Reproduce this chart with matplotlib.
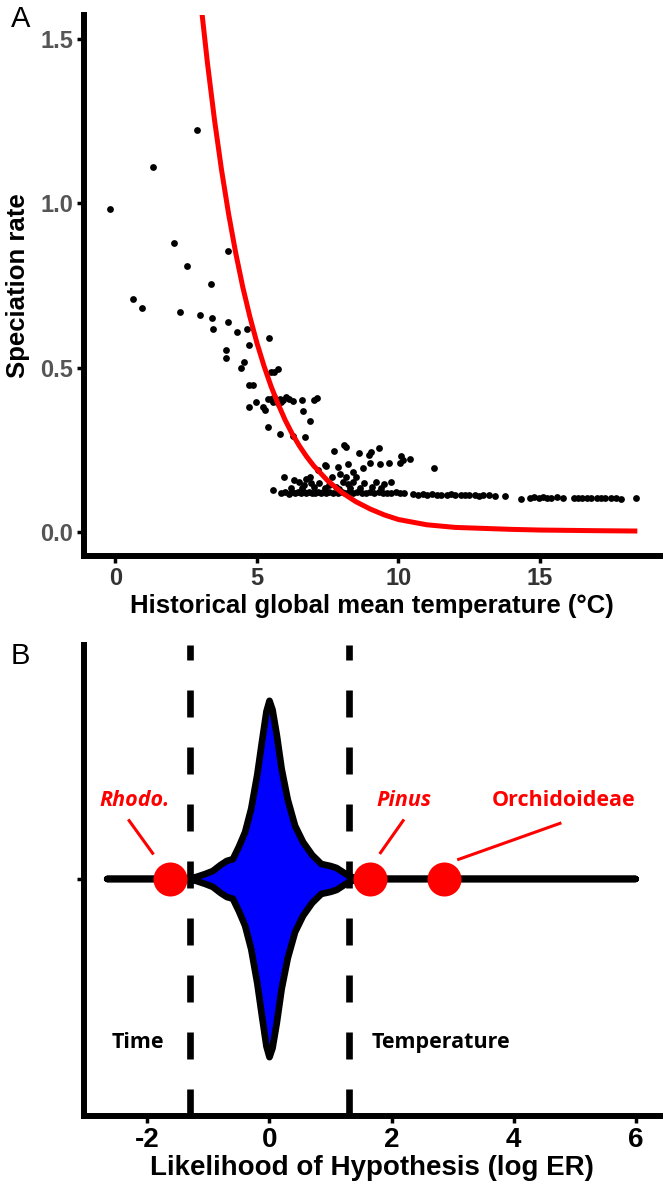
import matplotlib
matplotlib.use("Agg")
import matplotlib.pyplot as plt
import numpy as np

plt.rcParams['font.family'] = ['Liberation Sans', 'DejaVu Sans']

# ---- panel A: speciation rate vs temperature ----
temp_upper = [-0.19, 0.61, 0.93, 1.34, 2.06, 2.28, 2.54, 2.87, 3.00, 3.37, 3.42, 3.45,
              3.98, 3.99, 4.31, 4.65, 5.44, 4.73, 4.56, 4.42, 5.50, 5.62, 5.74, 4.73,
              4.85, 4.97, 4.71, 5.20, 5.30, 3.91, 3.91]
rate_upper = [0.983, 0.708, 0.681, 1.110, 0.879, 0.670, 0.809, 1.224, 0.659, 0.755, 0.650, 0.619,
              0.855, 0.638, 0.608, 0.618, 0.590, 0.568, 0.516, 0.498, 0.487, 0.487, 0.495, 0.447,
              0.447, 0.396, 0.379, 0.379, 0.371, 0.553, 0.528]

temp_mid = [5.38, 5.50, 5.62, 5.68, 5.80, 5.91, 6.03, 6.15, 6.27, 5.74, 5.56, 5.86,
            6.60, 7.00, 7.13, 6.64, 6.87, 5.39, 5.80, 6.27, 6.70]
rate_mid = [0.404, 0.406, 0.411, 0.399, 0.406, 0.401, 0.411, 0.406, 0.399, 0.391, 0.395, 0.396,
            0.403, 0.401, 0.408, 0.369, 0.338, 0.318, 0.298, 0.292, 0.290]

temp_low = [7.74, 8.09, 8.15, 8.62, 8.97, 9.03, 9.30, 10.09, 10.39, 11.25,
            7.45, 7.86, 8.21, 8.74, 8.98, 9.33, 9.68, 10.04, 10.15,
            5.95, 6.32, 6.50, 6.74, 6.86, 7.15, 7.42, 7.65, 7.92, 8.15, 8.39, 8.51,
            8.03, 8.21, 8.39, 8.80, 9.21, 9.50, 9.74, 7.56, 7.80, 7.21, 6.92, 6.68]
rate_low = [0.247, 0.264, 0.259, 0.239, 0.234, 0.244, 0.256, 0.231, 0.221, 0.194,
            0.202, 0.199, 0.207, 0.194, 0.209, 0.206, 0.209, 0.211, 0.219,
            0.168, 0.158, 0.153, 0.160, 0.166, 0.190, 0.203, 0.168, 0.178, 0.168, 0.183, 0.168,
            0.153, 0.146, 0.153, 0.148, 0.153, 0.146, 0.153, 0.143, 0.138, 0.148, 0.148, 0.143]

temp_row = [5.56, 5.85, 6.00, 6.12, 6.25, 6.35, 6.45, 6.55, 6.65, 6.75, 6.85, 6.95,
            7.05, 7.15, 7.25, 7.35, 7.45, 7.55, 7.70, 7.85, 8.00, 8.10, 8.25, 8.40,
            8.55, 8.70, 8.85, 9.00, 9.15, 9.30, 9.45, 9.60, 9.75, 9.90, 10.05, 10.20,
            6.20, 6.60, 7.00, 7.40, 7.90, 8.30, 8.65, 9.05, 9.40,
            10.50, 10.70, 10.85, 11.00, 11.20, 11.35, 11.50, 11.70, 11.85, 12.00, 12.20,
            12.35, 12.50, 12.70, 12.85, 13.00, 13.20, 13.40, 13.75, 14.33,
            14.65, 14.80, 14.95, 15.10, 15.25, 15.40, 15.60, 15.80,
            16.20, 16.35, 16.50, 16.65, 16.80, 17.00, 17.15, 17.30, 17.50, 17.70, 17.85, 18.40]
rate_row = [0.128, 0.118, 0.121, 0.117, 0.122, 0.119, 0.121, 0.118, 0.122, 0.119, 0.121, 0.118,
            0.120, 0.122, 0.118, 0.121, 0.119, 0.121, 0.118, 0.120, 0.122, 0.118, 0.121, 0.119,
            0.121, 0.118, 0.120, 0.122, 0.119, 0.121, 0.118, 0.120, 0.119, 0.121, 0.118, 0.120,
            0.135, 0.133, 0.136, 0.134, 0.132, 0.135, 0.133, 0.136, 0.134,
            0.116, 0.114, 0.115, 0.113, 0.115, 0.112, 0.114, 0.113, 0.115, 0.112, 0.114,
            0.113, 0.112, 0.114, 0.111, 0.113, 0.112, 0.111, 0.110, 0.100,
            0.104, 0.106, 0.103, 0.105, 0.104, 0.103, 0.105, 0.104,
            0.103, 0.104, 0.102, 0.104, 0.103, 0.102, 0.104, 0.103, 0.102, 0.104, 0.101, 0.104]

curve_temp = [3.07, 3.25, 3.5, 3.75, 4.0, 4.25, 4.5, 4.75, 5.0, 5.25, 5.5, 5.75, 6.0, 6.25,
              6.5, 6.75, 7.0, 7.5, 8.0, 8.5, 9.0, 9.5, 10.0, 11.0, 12.0, 13.0, 14.0, 15.0,
              16.0, 17.0, 18.35]
curve_rate = [1.569, 1.428, 1.254, 1.101, 0.967, 0.849, 0.745, 0.655, 0.575, 0.505, 0.443,
              0.389, 0.340, 0.298, 0.262, 0.230, 0.202, 0.156, 0.120, 0.092, 0.070, 0.052,
              0.038, 0.022, 0.014, 0.011, 0.008, 0.006, 0.005, 0.004, 0.003]

xticks_a = [0, 5, 10, 15]
yticks_a = [0.0, 0.5, 1.0, 1.5]

# ---- panel B: violin of log ER ----
violin_x = [-2.66, -1.6, -1.35, -1.2, -1.05, -0.93, -0.8, -0.7, -0.6, -0.5, -0.4, -0.3, -0.2,
            -0.12, -0.05, 0.0, 0.05, 0.12, 0.2, 0.3, 0.42, 0.55, 0.7, 0.85, 1.0, 1.1, 1.2,
            1.3, 1.45, 1.8, 6.0]
violin_half = [0, 0, 0, 0.011, 0.028, 0.044, 0.078, 0.100, 0.11, 0.18, 0.26, 0.39, 0.58,
               0.77, 0.93, 0.99, 0.94, 0.80, 0.61, 0.44, 0.295, 0.205, 0.133, 0.083, 0.072,
               0.061, 0.039, 0.017, 0, 0, 0]
clade_names = ['Rhodo.', 'Pinus', 'Orchidoideae']
clade_er = [-1.63, 1.65, 2.86]
clade_italic = [True, True, False]
label_x = [-2.21, 2.21, 4.82]
leader_start = [(-2.30, 0.324), (2.19, 0.324), (4.76, 0.309)]
leader_end = [(-1.915, 0.143), (1.82, 0.146), (3.10, 0.109)]
cutoffs = [-1.3, 1.3]
xticks_b = [-2, 0, 2, 4, 6]

fig = plt.figure(figsize=(6.72, 12), dpi=100)

# panel A
ax = fig.add_axes([84 / 672, 1 - 556 / 1200, 576 / 672, 541 / 1200])
for t, r in [(temp_upper, rate_upper), (temp_mid, rate_mid), (temp_low, rate_low), (temp_row, rate_row)]:
    ax.scatter(t, r, s=24, color='black', linewidths=0, zorder=2)
ax.plot(curve_temp, curve_rate, color='#FF0000', lw=3.6, zorder=3)
ax.set_xlim(-1.11, 19.24)
ax.set_ylim(-0.073, 1.573)
ax.set_xticks(xticks_a)
ax.set_yticks(yticks_a)
ax.set_yticklabels(['%.1f' % v for v in yticks_a])
for s in ['top', 'right']:
    ax.spines[s].set_visible(False)
for s in ['left', 'bottom']:
    ax.spines[s].set_linewidth(4.3)
ax.tick_params(length=5, width=2.5, color='black', labelsize=17, pad=3)
for lab in ax.get_xticklabels():
    lab.set_fontweight('bold')
    lab.set_color('#333333')
for lab in ax.get_yticklabels():
    lab.set_fontweight('bold')
    lab.set_color('#555555')
ax.set_xlabel('Historical global mean temperature (°C)', fontsize=18.5, fontweight='bold', va='center')
ax.xaxis.set_label_coords(0.5, -0.092)
ax.set_ylabel('Speciation rate', fontsize=18.5, fontweight='bold', va='center')
ax.yaxis.set_label_coords(-0.1146, 0.5)
fig.text(21 / 672, 1 - 19 / 1200, 'A', fontsize=21, ha='center', va='center')

# panel B
bx = fig.add_axes([84 / 672, 1 - 1116 / 1200, 576 / 672, 471 / 1200])
bx.set_xlim(-3.04, 6.40)
bx.set_ylim(-1.317, 1.3)
for c in cutoffs:
    bx.plot([c, c], [-1.317, 1.3], color='black', lw=4.8, dashes=(4.05, 4.5), zorder=1)
vx = np.array(violin_x)
vh = np.array(violin_half)
bx.fill(np.concatenate([vx, vx[::-1]]), np.concatenate([vh, -vh[::-1]]),
        facecolor='#0000FF', edgecolor='black', lw=4.8, joinstyle='round', capstyle='round', zorder=2)
bx.scatter(clade_er, [0] * len(clade_er), s=600, color='#FF0000', linewidths=0, zorder=4)
for name, lx, it, p0, p1 in zip(clade_names, label_x, clade_italic, leader_start, leader_end):
    bx.plot([p0[0], p1[0]], [p0[1], p1[1]], color='#FF0000', lw=2.2, zorder=4)
    bx.text(lx, 0.405, name, color='#FF0000', fontsize=15.5, fontweight='bold',
            style='italic' if it else 'normal', family=['Open Sans', 'DejaVu Sans'],
            ha='center', va='baseline')
bx.text(-2.16, -0.906, 'Time', fontsize=15.5, fontweight='bold', family=['Open Sans', 'DejaVu Sans'],
        ha='center', va='center')
bx.text(2.81, -0.906, 'Temperature', fontsize=15.5, fontweight='bold', family=['Open Sans', 'DejaVu Sans'],
        ha='center', va='center')
for s in ['top', 'right']:
    bx.spines[s].set_visible(False)
for s in ['left', 'bottom']:
    bx.spines[s].set_linewidth(4.3)
bx.set_xticks(xticks_b)
bx.set_xticklabels([str(v) for v in xticks_b])
bx.set_yticks([0])
bx.set_yticklabels([''])
bx.tick_params(length=5, width=2.5, color='black', labelsize=20, pad=3)
for lab in bx.get_xticklabels():
    lab.set_fontweight('bold')
bx.set_xlabel('Likelihood of Hypothesis (log ER)', fontsize=20, fontweight='bold', va='center')
bx.xaxis.set_label_coords(0.5, -0.110)
fig.text(20 / 672, 1 - 656 / 1200, 'B', fontsize=21, ha='center', va='center')

fig.savefig('out.png', dpi=100)
